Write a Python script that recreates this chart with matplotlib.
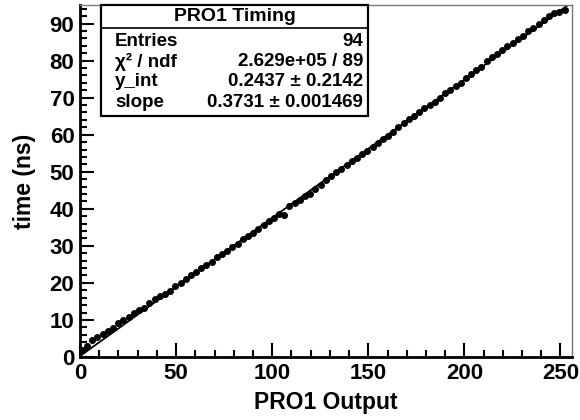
import numpy as np
import matplotlib
matplotlib.use("Agg")
import matplotlib.pyplot as plt
from matplotlib.patches import Rectangle
from matplotlib.ticker import MultipleLocator

# PRO1 output vs timing
pro1_out = [1.0, 3.7, 6.4, 9.1, 11.8, 14.5, 17.2, 19.9, 22.6, 25.3,
            28.0, 30.7, 33.4, 36.1, 38.8, 41.5, 44.2, 46.9, 49.6, 52.3,
            55.0, 57.7, 60.4, 63.1, 65.8, 68.5, 71.2, 73.9, 76.6, 79.3,
            82.0, 84.7, 87.4, 90.1, 92.8, 95.5, 98.2, 100.9, 103.6, 106.3,
            109.0, 111.7, 114.4, 117.1, 119.8, 122.5, 125.2, 127.9, 130.6, 133.3,
            136.0, 138.7, 141.4, 144.1, 146.8, 149.5, 152.2, 154.9, 157.6, 160.3,
            163.0, 165.7, 168.4, 171.1, 173.8, 176.5, 179.2, 181.9, 184.6, 187.3,
            190.0, 192.7, 195.4, 198.1, 200.8, 203.5, 206.2, 208.9, 211.6, 214.3,
            217.0, 219.7, 222.4, 225.1, 227.8, 230.5, 233.2, 235.9, 238.6, 241.3,
            244.0, 246.7, 249.4, 252.1]
time_ns = [1.9, 3.1, 4.5, 5.4, 6.1, 7.0, 7.9, 9.2, 9.9, 10.8,
           12.0, 12.7, 13.3, 14.6, 15.6, 16.4, 17.1, 17.9, 19.2, 19.9,
           21.0, 22.1, 23.0, 24.1, 24.9, 25.6, 26.9, 27.9, 28.6, 29.7,
           30.4, 31.9, 32.6, 33.6, 34.6, 35.5, 36.6, 37.5, 38.6, 38.2,
           40.8, 41.6, 42.3, 43.5, 43.9, 45.3, 46.4, 47.8, 48.8, 49.9,
           50.8, 51.8, 52.9, 53.7, 54.7, 55.7, 56.8, 57.8, 58.9, 59.7,
           60.8, 62.0, 63.1, 64.1, 65.0, 66.0, 67.2, 68.1, 68.9, 70.0,
           71.3, 72.0, 73.2, 74.0, 75.4, 76.3, 77.5, 78.2, 79.9, 81.1,
           81.9, 82.8, 83.9, 84.8, 85.9, 86.7, 88.0, 88.9, 89.9, 91.0,
           91.9, 92.9, 93.1, 93.6]

y_int = 0.2437
slope = 0.3731

stat_labels = ["Entries", "\u03c7\u00b2 / ndf", "y_int", "slope"]
stat_values = ["94", "2.629e+05 / 89", "0.2437 \u00b1 0.2142", "0.3731 \u00b1 0.001469"]

plt.rcParams['font.family'] = ['Liberation Sans', 'DejaVu Sans']
plt.rcParams['font.weight'] = 'bold'

fig = plt.figure(figsize=(5.8, 4.2), dpi=100)
ax = fig.add_axes([80/580, 1-357/420, 492/580, 352/420])

xfit = np.array([0, 256])
ax.plot(xfit, y_int + slope*xfit, color='black', lw=1.3, zorder=2)
ax.plot(pro1_out, time_ns, 'o', color='black', ms=4, zorder=3)

ax.set_xlim(0, 256)
ax.set_ylim(0, 95)

ax.xaxis.set_major_locator(MultipleLocator(50))
ax.xaxis.set_minor_locator(MultipleLocator(10))
ax.yaxis.set_major_locator(MultipleLocator(10))
ax.yaxis.set_minor_locator(MultipleLocator(2))
ax.tick_params(which='both', direction='in', top=False, right=False, width=1.5)
ax.tick_params(which='major', length=10, labelsize=16)
ax.tick_params(which='minor', length=5)
ax.tick_params(axis='x', pad=4)
ax.tick_params(axis='y', pad=4)
for lab in ax.get_xticklabels() + ax.get_yticklabels():
    lab.set_fontweight('bold')

for s in ['left', 'bottom']:
    ax.spines[s].set_linewidth(2)
    ax.spines[s].set_color('black')
for s in ['top', 'right']:
    ax.spines[s].set_linewidth(1)
    ax.spines[s].set_color('#777777')

fig.text(326/580, 1-403/420, "PRO1 Output", ha='center', va='center',
         fontsize=16.5, fontweight='bold')
fig.text(24/580, 1-181/420, "time (ns)", ha='center', va='center',
         rotation=90, fontsize=16.5, fontweight='bold')

# stats box
bx0, bx1, by0, by1 = 101, 368, 5, 116
fig.patches.append(Rectangle((bx0/580, 1-by1/420), (bx1-bx0)/580, (by1-by0)/420,
                             transform=fig.transFigure, facecolor='white',
                             edgecolor='black', lw=1.6, zorder=10))
fig.add_artist(plt.Line2D([bx0/580, bx1/580], [1-28/420, 1-28/420],
                          transform=fig.transFigure, color='black', lw=1.2, zorder=11))
fig.text((bx0+bx1)/2/580, 1-16.5/420, "PRO1 Timing", ha='center', va='center',
         fontsize=14, fontweight='bold', zorder=12)
row_y = [41, 61.5, 82, 102.5]
for lab, val, yy in zip(stat_labels, stat_values, row_y):
    fig.text(115/580, 1-yy/420, lab, ha='left', va='center',
             fontsize=13.5, fontweight='bold', zorder=12)
    fig.text(363/580, 1-yy/420, val, ha='right', va='center',
             fontsize=13.5, fontweight='bold', zorder=12)

fig.savefig("out.png", dpi=100)
